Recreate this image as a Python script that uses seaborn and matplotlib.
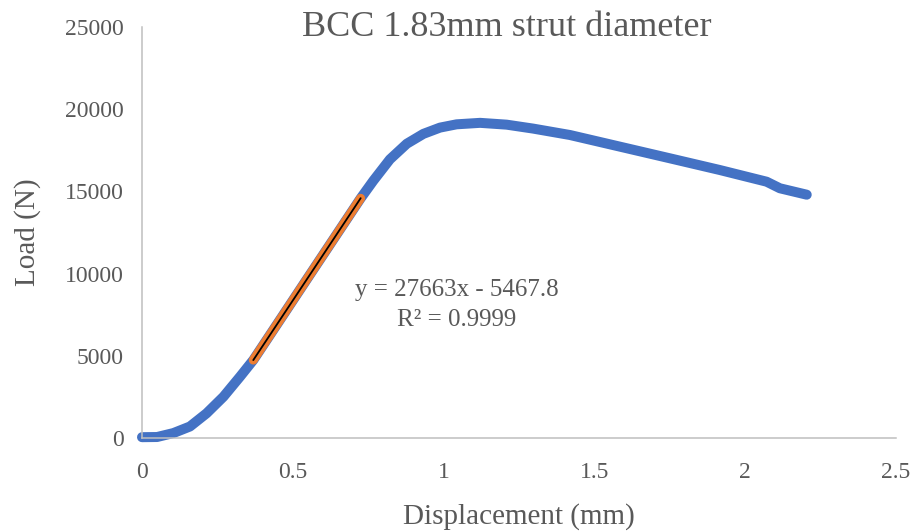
import matplotlib
matplotlib.use("Agg")
import matplotlib.pyplot as plt
import seaborn as sns
import pandas as pd

# Load-displacement curve
disp = [0.0, 0.05, 0.104, 0.159, 0.214, 0.27, 0.325, 0.369, 0.45, 0.55, 0.65,
        0.725, 0.767, 0.822, 0.878, 0.933, 0.988, 1.043, 1.121, 1.209, 1.297,
        1.419, 1.585, 1.751, 1.916, 2.071, 2.115, 2.204]
load = [50, 60, 300, 700, 1500, 2510, 3730, 4740, 6980, 9750, 12510,
        14580, 15650, 16950, 17900, 18500, 18880, 19080, 19170, 19060, 18820,
        18430, 17720, 17010, 16300, 15590, 15190, 14800]

# linear region used for the trendline
fit_disp = [0.369, 0.45, 0.55, 0.65, 0.725]
fit_load = [4740, 6980, 9750, 12510, 14580]
slope = 27663
intercept = -5467.8
r2 = 0.9999

curve = pd.DataFrame({"disp": disp, "load": load})
fit = pd.DataFrame({"disp": fit_disp, "load": fit_load})
trend = pd.DataFrame({"disp": [fit_disp[0], fit_disp[-1]]})
trend["load"] = slope * trend["disp"] + intercept

sns.set_style("white")
plt.rcParams["font.family"] = ["Liberation Serif", "DejaVu Serif"]

grey = "#595959"
fig = plt.figure(figsize=(9.12, 5.32), dpi=100)
ax = fig.add_axes([142 / 912, 1 - 438 / 532, (896 - 142) / 912, (438 - 27) / 532])

sns.lineplot(data=curve, x="disp", y="load", ax=ax, sort=False, color="#4472C4",
             linewidth=7.2, solid_capstyle="round", solid_joinstyle="round",
             clip_on=False)
sns.lineplot(data=fit, x="disp", y="load", ax=ax, sort=False, color="#ED7D31",
             linewidth=6.5, solid_capstyle="round")
sns.lineplot(data=trend, x="disp", y="load", ax=ax, sort=False, color="black",
             linewidth=1.3)

ax.set_xlim(0, 2.5)
ax.set_ylim(0, 25000)
ax.set_xticks([0, 0.5, 1, 1.5, 2, 2.5])
ax.set_xticklabels(["0", "0.5", "1", "1.5", "2", "2.5"])
ax.set_yticks([0, 5000, 10000, 15000, 20000, 25000])

for side in ["top", "right"]:
    ax.spines[side].set_visible(False)
for side in ["left", "bottom"]:
    ax.spines[side].set_color("#BFBFBF")
    ax.spines[side].set_linewidth(1.1)

ax.tick_params(axis="both", direction="in", length=4.5, width=1.1, color="#BFBFBF",
               labelsize=17, labelcolor=grey, pad=13)
ax.tick_params(axis="x", pad=17)

ax.set_xlabel("Displacement (mm)", fontsize=21, color=grey, labelpad=15)
ax.set_ylabel("Load (N)", fontsize=21, color=grey, labelpad=17)

fig.text(507 / 912, 1 - 27 / 532, "BCC 1.83mm strut diameter", fontsize=26,
         color=grey, ha="center", va="center")
ax.text((457 - 142) / 754, (438 - 290) / 411, f"y = {slope}x - {abs(intercept)}",
        transform=ax.transAxes, fontsize=18, color=grey, ha="center", va="center")
ax.text((457 - 142) / 754, (438 - 320) / 411, f"R² = {r2}",
        transform=ax.transAxes, fontsize=18, color=grey, ha="center", va="center")

fig.savefig("out.png", dpi=100)
